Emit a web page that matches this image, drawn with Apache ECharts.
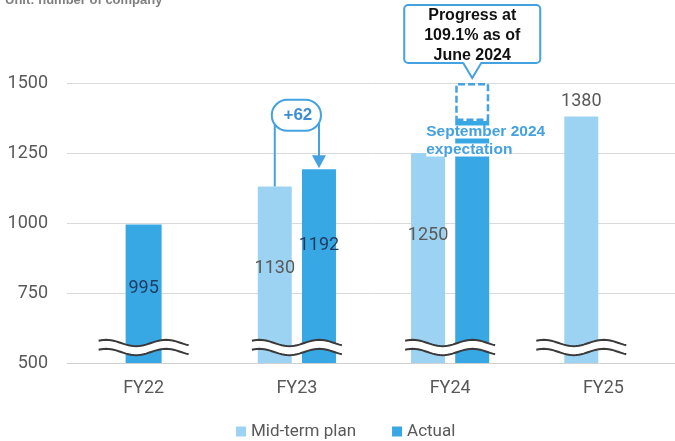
<!DOCTYPE html>
<html><head><meta charset="utf-8">
<script src="https://cdn.jsdelivr.net/npm/echarts@6/dist/echarts.min.js"></script>
<style>html,body{margin:0;padding:0;background:#fff}#c{width:675px;height:441px}</style>
</head><body><div id="c"></div>
<script>
const categories = ['FY22', 'FY23', 'FY24', 'FY25'];
const planValues = [null, 1130, 1250, 1380];
const actualValues = [995, 1192, 1364, null];
const expectationValues = [null, null, 1500, null];
const yTicks = [500, 750, 1000, 1250, 1500];
const legendNames = ['Mid-term plan', 'Actual'];
const unitText = 'Unit: number of company';
const diffText = '+62';
const progressText = ['Progress at', '109.1% as of', 'June 2024'];
const expectationText = ['September 2024', 'expectation'];

const PLAN = '#9dd3f2', ACT = '#38a8e4', ANNO = '#45a2e0', GRAY = '#595959', NAVY = '#1f3a5f';
const BAR_W = 34, GAP = 0.3;
const off = BAR_W * (1 + GAP) / 2;
const yMin = yTicks[0], yMax = yTicks[yTicks.length - 1], yStep = yTicks[1] - yTicks[0];

const chart = echarts.init(document.getElementById('c'), null, {renderer: 'canvas'});

const actualMain = actualValues.map((v, i) => planValues[i] == null ? null :
  (v == null ? null : (expectationValues[i] != null ? {value: v, label: {show: false}} : v)));
const actualSolo = actualValues.map((v, i) => planValues[i] == null ? v : null);
const expectationInc = expectationValues.map((e, i) => e == null ? null : e - actualValues[i]);
const planData = planValues.map((v, i) => v == null ? null :
  (actualValues[i] == null ? {value: v, label: {position: 'top', distance: 6}} : v));

const labelFont = {fontFamily: 'Roboto', fontSize: 18};

chart.setOption({
  animation: false,
  grid: {left: 67, width: 613, top: 83, bottom: 78, outerBoundsMode: 'none', containLabel: false},
  legend: {
    data: legendNames, left: 236, top: 423, padding: 0, icon: 'rect', itemWidth: 10, itemHeight: 10, itemGap: 36,
    textStyle: {color: GRAY, fontFamily: 'Roboto', fontSize: 17}
  },
  xAxis: [
    {type: 'category', data: categories, axisTick: {show: false},
     axisLine: {lineStyle: {color: '#d0d0d0'}},
     axisLabel: Object.assign({color: GRAY, margin: 16}, labelFont)},
    {type: 'category', data: categories, show: false}
  ],
  yAxis: {
    type: 'value', min: yMin, max: yMax, interval: yStep,
    axisLine: {show: false}, axisTick: {show: false},
    splitLine: {lineStyle: {color: '#d9d9d9'}},
    axisLabel: Object.assign({color: GRAY, margin: 19, formatter: v => String(v)}, labelFont)
  },
  series: [
    {name: legendNames[0], type: 'bar', data: planData, barWidth: BAR_W, barGap: (GAP * 100) + '%',
     itemStyle: {color: PLAN},
     label: Object.assign({show: true, position: 'insideTop', distance: 73, color: GRAY}, labelFont)},
    {name: legendNames[1], type: 'bar', stack: 'act', data: actualMain, barWidth: BAR_W,
     itemStyle: {color: ACT},
     label: Object.assign({show: true, position: 'insideTop', distance: 67, color: NAVY}, labelFont)},
    {name: 'expectation', type: 'bar', stack: 'act', data: expectationInc, barWidth: BAR_W,
     itemStyle: {color: 'rgba(0,0,0,0)', borderColor: ANNO, borderWidth: 2.5, borderType: [7, 3]},
     label: {show: true, position: [-29, 40], align: 'left', verticalAlign: 'top',
       formatter: expectationText.map(t => '{a|' + t + '}').join('\n'),
       rich: {a: {fontFamily: 'Liberation Sans', fontSize: 15.5, fontWeight: 'bold', color: ANNO,
                  backgroundColor: '#fff', height: 13, lineHeight: 18}}}},
    {name: legendNames[1], type: 'bar', xAxisIndex: 1, data: actualSolo, barWidth: 36,
     itemStyle: {color: ACT},
     label: Object.assign({show: true, position: 'insideTop', distance: 55, color: NAVY}, labelFont)},
    {name: 'break', type: 'custom', z: 5, silent: true, clip: false,
     data: categories.map((c, i) => [i]), encode: {x: 0},
     renderItem: function (params, api) {
       const idx = api.value(0);
       const base = api.coord([idx, yMin]);
       const shift = (planValues[idx] != null && actualValues[idx] == null) ? -off : 0;
       const cx = base[0] + shift;
       const W = 90, A = 3.2;
       const wave = function (yb) {
         const pts = [];
         for (let k = 0; k <= 36; k++) {
           const t = k / 36;
           pts.push([cx - W / 2 + W * t, yb - A * Math.sin(2 * Math.PI * 1.5 * t + Math.PI / 4)]);
         }
         return pts;
       };
       const top = wave(base[1] - 20), bot = wave(base[1] - 11);
       return {type: 'group', children: [
         {type: 'polygon', shape: {points: top.concat(bot.slice().reverse())}, style: {fill: '#fff'}},
         {type: 'polyline', shape: {points: top}, style: {stroke: '#3a3a3a', lineWidth: 2, fill: null}},
         {type: 'polyline', shape: {points: bot}, style: {stroke: '#3a3a3a', lineWidth: 2, fill: null}}
       ]};
     }}
  ]
});

// annotations positioned through the chart's own scales
const px = (i, v) => chart.convertToPixel({xAxisIndex: 0, yAxisIndex: 0}, [i, v]);

const c1 = px(1, planValues[1]);
const planX = c1[0] - off, actX = c1[0] + off;
const planTop = c1[1];
const actTop = px(1, actualValues[1])[1];
const pillCy = actTop - 54;

const c2 = px(2, expectationValues[2]);
const cx2 = c2[0] + off;
const tipY = c2[1] - 5, y1 = tipY - 15, y0 = y1 - 58;

chart.setOption({
  graphic: [
    {type: 'text', left: 5, top: -6, style: {text: unitText, font: 'bold 13px "Liberation Sans"', fill: '#7f7f7f'}},
    // +62 connector
    {type: 'line', shape: {x1: planX, y1: pillCy + 8, x2: planX, y2: planTop}, style: {stroke: ANNO, lineWidth: 2}},
    {type: 'line', shape: {x1: actX, y1: pillCy + 8, x2: actX, y2: actTop - 13}, style: {stroke: ANNO, lineWidth: 2}},
    {type: 'polygon', shape: {points: [[actX - 7, actTop - 14], [actX + 7, actTop - 14], [actX, actTop - 1]]}, style: {fill: ANNO}},
    {type: 'rect', shape: {x: planX - 3, y: pillCy - 15.5, width: actX - planX + 5, height: 31, r: 15.5},
     style: {fill: '#fff', stroke: ANNO, lineWidth: 2}},
    {type: 'text', style: {text: diffText, x: (planX + actX) / 2 + 1, y: pillCy, font: 'bold 17px "Liberation Sans"',
     fill: '#3b8ed4', textAlign: 'center', textVerticalAlign: 'middle', verticalAlign: 'middle'}},
    // progress callout
    {type: 'rect', shape: {x: cx2 - 68, y: y0, width: 136, height: 58, r: 4},
     style: {fill: '#fff', stroke: ANNO, lineWidth: 2}},
    {type: 'polygon', shape: {points: [[cx2 - 9, y1 - 1.5], [cx2 + 9, y1 - 1.5], [cx2, tipY]]}, style: {fill: '#fff'}},
    {type: 'polyline', shape: {points: [[cx2 - 9, y1], [cx2, tipY], [cx2 + 9, y1]]}, style: {stroke: ANNO, lineWidth: 2, fill: null}},
    {type: 'text', style: {text: progressText.join('\n'), x: cx2, y: y0 + 31, font: 'bold 16px "Liberation Sans"',
     lineHeight: 20, fill: '#111', textAlign: 'center', textVerticalAlign: 'middle', verticalAlign: 'middle'}}
  ]
});
</script></body></html>
